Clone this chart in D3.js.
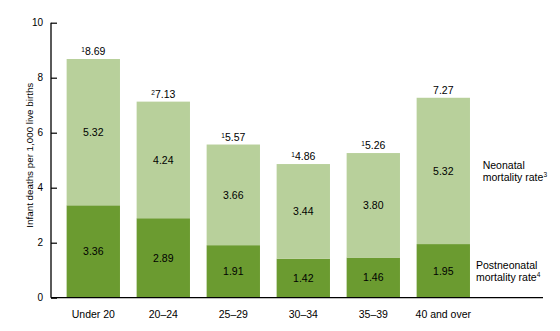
<!DOCTYPE html>
<html><head><meta charset="utf-8">
<script src="https://cdn.jsdelivr.net/npm/d3@7"></script>
<style>body{margin:0;background:#fff}text{font-family:"Liberation Sans",Arial,sans-serif;fill:#000}</style>
</head><body>
<svg id="c" width="560" height="331"></svg>
<script>
const categories = ["Under 20","20–24","25–29","30–34","35–39","40 and over"];
const postneonatal = [3.36,2.89,1.91,1.42,1.46,1.95];
const neonatal = [5.32,4.24,3.66,3.44,3.80,5.32];
const totals = [8.69,7.13,5.57,4.86,5.26,7.27];
const totalNotes = ["1","2","1","1","1",""];
const yTicks = [0,2,4,6,8,10];

const svg = d3.select("#c");
const x = d3.scaleBand().domain(categories).range([58.3,478.3]).paddingInner(0.238).paddingOuter(0.119);
const y = d3.scaleLinear().domain([0,10]).range([297.7,22.7]);
const dark = "#6b9b30", light = "#b8d09b";
const fs = 10.5;

const g = svg.append("g");
categories.forEach((c,i)=>{
  const p = postneonatal[i], n = neonatal[i];
  g.append("rect").attr("x",x(c)).attr("width",x.bandwidth()).attr("y",y(p)).attr("height",y(0)-y(p)).attr("fill",dark);
  g.append("rect").attr("x",x(c)).attr("width",x.bandwidth()).attr("y",y(p+n)).attr("height",y(p)-y(p+n)).attr("fill",light);
  const cx = x(c)+x.bandwidth()/2;
  g.append("text").attr("x",cx).attr("y",y(p/2)).attr("dy","0.35em").attr("text-anchor","middle").attr("font-size",fs).text(p.toFixed(2));
  g.append("text").attr("x",cx).attr("y",y(p+n/2)).attr("dy","0.35em").attr("text-anchor","middle").attr("font-size",fs).text(n.toFixed(2));
  const t = g.append("text").attr("x",cx).attr("y",y(totals[i])-4).attr("text-anchor","middle").attr("font-size",fs);
  if(totalNotes[i]) t.append("tspan").attr("font-size",6.5).attr("dy",-3).text(totalNotes[i]);
  t.append("tspan").attr("dy",totalNotes[i]?3:0).text(totals[i].toFixed(2));
});

// y axis
const ya = svg.append("g").attr("transform","translate(51,0)")
  .call(d3.axisLeft(y).tickValues(yTicks).tickSize(-6).tickPadding(8).tickFormat(d3.format("d")));
ya.select(".domain").attr("d",`M0,${y(10)}V${y(0)}`).attr("stroke","#000").attr("stroke-width",1.3);
ya.selectAll(".tick line").attr("stroke","#000").attr("stroke-width",1.2);
ya.selectAll(".tick text").attr("font-size",10).attr("font-family","Liberation Sans, Arial, sans-serif").attr("fill","#000");

// x axis
const xa = svg.append("g").attr("transform",`translate(0,${y(0)})`)
  .call(d3.axisBottom(x).tickSize(0).tickPadding(13));
xa.select(".domain").attr("d","M51,0H543").attr("stroke","#000").attr("stroke-width",1.3);
xa.selectAll(".tick text").attr("font-size",fs).attr("font-family","Liberation Sans, Arial, sans-serif").attr("fill","#000");

// y title
svg.append("text").attr("transform",`translate(33,${(y(0)+y(10))/2 - 5}) rotate(-90)`).attr("text-anchor","middle").attr("font-size",9.8).text("Infant deaths per 1,000 live births");

// legend
const last = categories.length-1;
const ln = svg.append("text").attr("x",482.7).attr("y",y(postneonatal[last]+neonatal[last]/2)-5.5).attr("dy","0.35em").attr("font-size",fs);
ln.append("tspan").attr("x",482.7).text("Neonatal");
ln.append("tspan").attr("x",482.7).attr("dy",11.5).text("mortality rate");
ln.append("tspan").attr("font-size",6.5).attr("dy",-4).text("3");
const lp = svg.append("text").attr("x",476).attr("y",y(postneonatal[last]/2)-5.5).attr("dy","0.35em").attr("font-size",fs);
lp.append("tspan").attr("x",476).text("Postneonatal");
lp.append("tspan").attr("x",476).attr("dy",11.5).text("mortality rate");
lp.append("tspan").attr("font-size",6.5).attr("dy",-4).text("4");
</script>
</body></html>
